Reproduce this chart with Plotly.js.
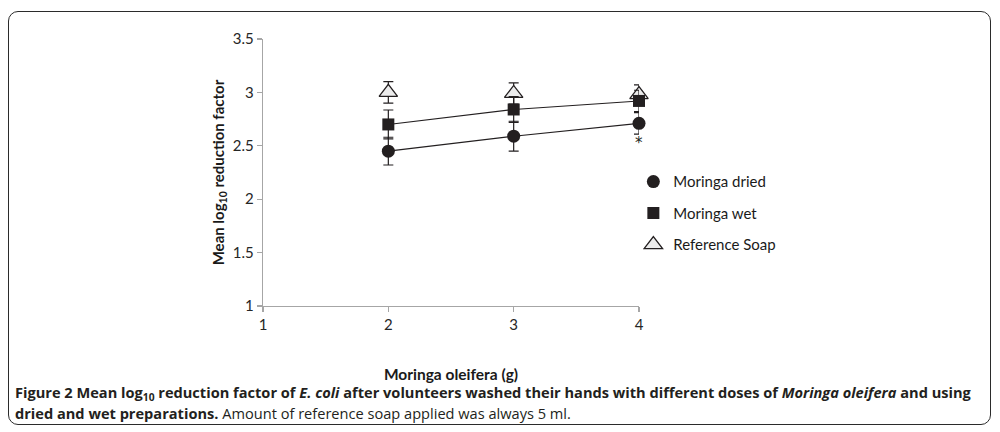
<!DOCTYPE html>
<html>
<head>
<meta charset="utf-8">
<script src="https://cdn.plot.ly/plotly-3.0.1.min.js"></script>
<style>
  html, body { margin:0; padding:0; background:#fff; }
  #wrap { position:relative; width:1000px; height:432px; }
  #chart { position:absolute; left:0; top:0; width:1000px; height:432px; }
  #frame { position:absolute; left:8px; top:11px; width:983px; height:414px; box-sizing:border-box;
           border:1.6px solid #2b2b2b; border-radius:10px; pointer-events:none; }
</style>
</head>
<body>
<div id="wrap">
  <div id="chart"></div>
  <div id="frame"></div>
</div>
<script>
// ---- data ----
const doses = [2, 3, 4];
const seriesNames = ['Moringa dried', 'Moringa wet', 'Reference Soap'];
const driedMean = [2.45, 2.59, 2.71];
const driedErr  = [0.13, 0.14, 0.10];
const wetMean   = [2.70, 2.84, 2.92];
const wetErr    = [0.135, 0.12, 0.10];
const soapMean  = [3.00, 2.99, 2.98];
const soapErr   = [0.10, 0.10, 0.09];
const xTickVals = [1, 2, 3, 4];
const yTickVals = [1, 1.5, 2, 2.5, 3, 3.5];
const starDose = 4, starY = 2.53;   // significance asterisk under dried @4 g

const ink = '#231f20';
const errStyle = (arr) => ({type:'data', array:arr, visible:true, color:ink, thickness:1.2, width:5});

const traces = [
  {x:doses, y:soapMean, name:seriesNames[2], mode:'markers', type:'scatter', cliponaxis:false,
   legendgroup:'c', legendrank:3,
   marker:{symbol:'triangle-up', size:16, color:'#ececec', line:{color:ink, width:1.3}},
   error_y:errStyle(soapErr)},
  {x:doses, y:wetMean, mode:'lines', type:'scatter', showlegend:false, cliponaxis:false,
   line:{color:ink, width:1.1}, hoverinfo:'skip'},
  {x:doses, y:driedMean, mode:'lines', type:'scatter', showlegend:false, cliponaxis:false,
   line:{color:ink, width:1.1}, hoverinfo:'skip'},
  {x:doses, y:wetMean, name:seriesNames[1], mode:'markers', type:'scatter', cliponaxis:false,
   legendgroup:'b', legendrank:2,
   marker:{symbol:'square', size:12, color:ink},
   error_y:errStyle(wetErr)},
  {x:doses, y:driedMean, name:seriesNames[0], mode:'markers', type:'scatter', cliponaxis:false,
   legendgroup:'a', legendrank:1,
   marker:{symbol:'circle', size:13, color:ink},
   error_y:errStyle(driedErr)}
];

const axisCommon = {
  showline:true, linecolor:'#a6a6a6', linewidth:1.3,
  ticks:'outside', ticklen:5, tickcolor:'#a6a6a6', tickwidth:1.3,
  showgrid:false, zeroline:false, automargin:false,
  tickfont:{family:'Lato, sans-serif', size:15, color:'#262626'}
};

const capFont = {family:'"Open Sans", sans-serif', size:14.6, color:ink};

const layout = {
  width:1000, height:432,
  margin:{l:263, r:361, t:39, b:126},
  paper_bgcolor:'rgba(0,0,0,0)', plot_bgcolor:'rgba(0,0,0,0)',
  font:{family:'Lato, sans-serif', size:15, color:'#1a1a1a'},
  showlegend:true,
  xaxis:Object.assign({}, axisCommon, {
    range:[1, 4], tickvals:xTickVals,
    title:{text:'<b>Moringa oleifera (g)</b>', font:{family:'Lato, sans-serif', size:15.5, color:'#1a1a1a'}, standoff:37}
  }),
  yaxis:Object.assign({}, axisCommon, {
    range:[1, 3.5], tickvals:yTickVals,
    title:{text:'<b>Mean log<sub>10</sub> reduction factor</b>', font:{family:'Lato, sans-serif', size:15, color:'#1a1a1a'}, standoff:4}
  }),
  legend:{x:0.985, xanchor:'left', y:0.527, yanchor:'top', traceorder:'grouped', tracegroupgap:9,
          font:{family:'Lato, sans-serif', size:15, color:'#1a1a1a'}, bgcolor:'rgba(0,0,0,0)', itemwidth:30},
  annotations:[
    {x:starDose, y:starY, xref:'x', yref:'y', text:'*', showarrow:false,
     font:{family:'"DejaVu Sans", sans-serif', size:15, color:ink}},
    {xref:'paper', yref:'paper', x:-0.665, y:-0.326, xanchor:'left', yanchor:'middle', showarrow:false, align:'left',
     text:'<b>Figure 2 Mean log<sub>10</sub> reduction factor of <i>E. coli</i> after volunteers washed their hands with different doses of <i>Moringa oleifera</i> and using</b>',
     font:capFont},
    {xref:'paper', yref:'paper', x:-0.665, y:-0.401, xanchor:'left', yanchor:'middle', showarrow:false, align:'left',
     text:'<b>dried and wet preparations.</b> Amount of reference soap applied was always 5 ml.',
     font:capFont}
  ]
};

Plotly.newPlot('chart', traces, layout, {staticPlot:true, displayModeBar:false});
</script>
</body>
</html>
